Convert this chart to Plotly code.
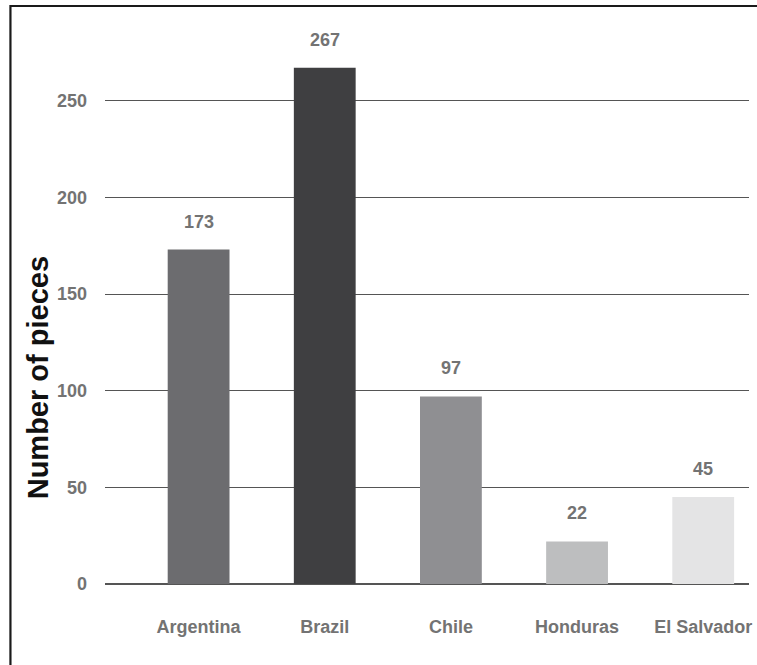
import plotly.graph_objects as go

# Collection sizes per country
countries = ["Argentina", "Brazil", "Chile", "Honduras", "El Salvador"]
pieces = [173, 267, 97, 22, 45]
bar_colors = ["#6c6c6f", "#3f3f41", "#8f8f92", "#bdbebf", "#e4e4e5"]
y_ticks = [0, 50, 100, 150, 200, 250]

W, H = 757, 665
ML, MR, MT, MB = 105, 5, 30, 81
plot_w = W - ML - MR
plot_h = H - MT - MB

fig = go.Figure(
    go.Bar(
        x=list(range(len(countries))),
        y=pieces,
        marker=dict(color=bar_colors, line=dict(width=0)),
        width=0.49,
        hoverinfo="skip",
    )
)

label_font = dict(family="Liberation Sans, Arial, sans-serif", size=18, color="#737373", weight="bold")


def px_x(px):
    return (px - ML) / plot_w


def px_y(py):
    return (H - MB - py) / plot_h


# value labels above each bar
for i, v in enumerate(pieces):
    fig.add_annotation(
        x=i, y=v, text=f"<b>{v}</b>", showarrow=False,
        yanchor="middle", yshift=28, font=label_font,
    )

# vertical axis title
fig.add_annotation(
    xref="paper", yref="paper", x=px_x(38), y=px_y(378),
    text="<b>Number of pieces</b>", textangle=-90, showarrow=False,
    xanchor="center", yanchor="middle",
    font=dict(family="Liberation Sans, Arial, sans-serif", size=29, color="#111111"),
)

# frame around the chart (left and top edges visible)
fig.add_shape(
    type="rect", xref="paper", yref="paper",
    x0=px_x(10), x1=px_x(800), y0=px_y(720), y1=px_y(6),
    line=dict(color="#1a1a1a", width=2.2), layer="above",
)

fig.update_layout(
    width=W, height=H,
    margin=dict(l=ML, r=MR, t=MT, b=MB),
    paper_bgcolor="white", plot_bgcolor="white",
    showlegend=False,
    xaxis=dict(
        range=[-0.742, 4.363],
        tickmode="array", tickvals=list(range(len(countries))), ticktext=[f"<b>{c}</b>" for c in countries],
        tickfont=label_font,
        showgrid=False, zeroline=False, showline=False, ticks="",
        ticklabelstandoff=30,
    ),
    yaxis=dict(
        range=[0, plot_h / 1.9332],
        tickmode="array", tickvals=y_ticks, ticktext=[f"<b>{t}</b>" for t in y_ticks],
        tickfont=label_font,
        showgrid=True, gridcolor="#555555", gridwidth=1.3,
        zeroline=True, zerolinecolor="#555555", zerolinewidth=1.5,
        showline=False, ticks="",
        ticklabelstandoff=17,
        automargin=False,
    ),
    bargap=0.51,
)

fig.write_html("out.html")
